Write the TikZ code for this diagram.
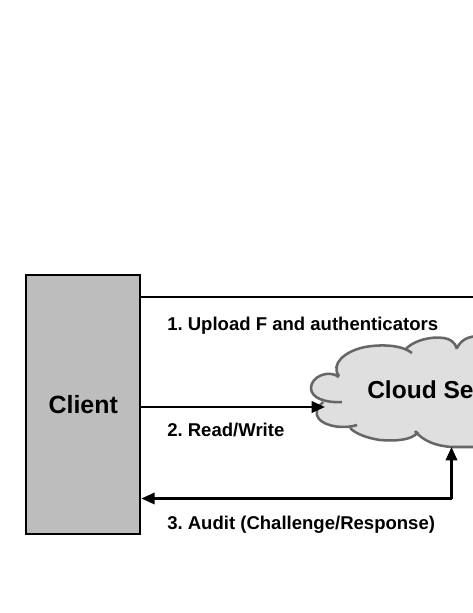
\documentclass[tikz,border=0pt]{standalone}
\usepackage{fontspec}
\setmainfont{Liberation Sans}
\usetikzlibrary{arrows.meta}
\definecolor{clientgrey}{HTML}{BDBDBD}
\definecolor{cloudgrey}{HTML}{DFDFDF}
\definecolor{cloudline}{HTML}{666666}
\tikzset{
  px/.style={x=0.75pt,y=-0.75pt},
  clientbox/.style={draw=black,line width=1.7pt,fill=clientgrey,minimum width=85.5pt,minimum height=194.25pt,inner sep=0pt,font=\fontsize{18.7}{22}\selectfont\bfseries},
  cloudfill/.style={fill=cloudgrey},
  cloudcurl/.style={draw=cloudline,line width=1.9pt},
  cloudtext/.style={inner sep=0pt,anchor=west,font=\fontsize{18.4}{22}\selectfont\bfseries},
  flow/.style={line width=1.8pt,draw=black},
  tip/.style={-{Triangle[length=10pt,width=8.5pt]}},
  steplabel/.style={inner sep=0pt,anchor=west,font=\fontsize{13.9}{16}\selectfont\bfseries},
}
\begin{document}
\frenchspacing
\begin{tikzpicture}[px]
\useasboundingbox (0,0) rectangle (473,613);
\clip (0,0) rectangle (473,613);
% cloud fill
\path[cloudfill]
  (323,401) .. controls (315,398) and (311,394) .. (311,388)
  .. controls (311,379) and (322,372) .. (337,373)
  .. controls (332,362) and (345,351) .. (365,347)
  .. controls (380,344) and (396,344) .. (407,349)
  .. controls (414,341) and (430,336) .. (444,338)
  .. controls (450,339) and (455,342) .. (458,346)
  .. controls (462,340) and (468,336) .. (480,336)
  -- (480,447) -- (452,447)
  .. controls (436,446) and (423,441) .. (416,434)
  .. controls (408,441) and (393,441) .. (380,440)
  .. controls (367,438) and (356,434) .. (350,428)
  .. controls (338,428) and (322,426) .. (318,416)
  .. controls (316,411) and (319,405) .. (323,401) -- cycle;
% cloud outline, lobe by lobe
\draw[cloudcurl] (342,402) .. controls (325,403) and (311,398) .. (311,388)
  .. controls (311,377) and (328,369) .. (339,377);
\draw[cloudcurl] (339,376) .. controls (330,364) and (345,351) .. (365,347)
  .. controls (382,344) and (402,345) .. (412,353);
\draw[cloudcurl] (405,350) .. controls (412,341) and (430,336) .. (444,338)
  .. controls (450,339) and (455,342) .. (457,349);
\draw[cloudcurl] (457,348) .. controls (461,340) and (468,336) .. (480,336);
\draw[cloudcurl] (323,402) .. controls (316,409) and (315,414) .. (319,419)
  .. controls (326,427) and (345,429) .. (357,425);
\draw[cloudcurl] (350,428) .. controls (356,434) and (367,438) .. (380,440)
  .. controls (393,441) and (412,441) .. (418,432);
\draw[cloudcurl] (415,431) .. controls (423,441) and (436,446) .. (452,447) -- (480,447);
\node[cloudtext] (cloudlabel) at (367,390) {Cloud Se};
% client
\node[clientbox] (client) at (83.25,404.5) {Client};
% connectors
\coordinate (topend) at (480,297);
\coordinate (cloudwest) at (325,407);
\coordinate (cloudsouth) at (451.5,447);
\coordinate (corner) at (451.5,498.5);
\draw[flow] (client.east |- topend) -- (topend);
\draw[flow,tip] (client.east |- cloudwest) -- (cloudwest);
\draw[flow,tip] (corner) -- (cloudsouth);
\draw[flow,tip] (corner) -- (client.east |- corner);
% labels
\node[steplabel] (l1) at (167,326) {1. Upload F and authenticators};
\node[steplabel] (l2) at (167,430) {2. Read/Write};
\node[steplabel] (l3) at (167,525) {3. Audit (Challenge/Response)};
\end{tikzpicture}
\end{document}
